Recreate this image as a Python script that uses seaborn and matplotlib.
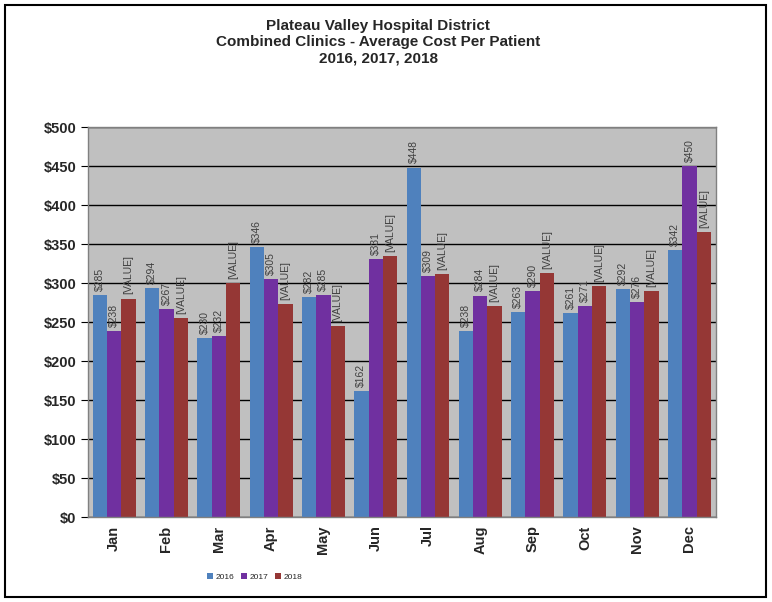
import numpy as np
import pandas as pd
import matplotlib.pyplot as plt
import seaborn as sns
from matplotlib.patches import Rectangle

months = ["Jan", "Feb", "Mar", "Apr", "May", "Jun", "Jul", "Aug", "Sep", "Oct", "Nov", "Dec"]
years = ["2016", "2017", "2018"]
cost_2016 = [285, 294, 230, 346, 282, 162, 448, 238, 263, 261, 292, 342]
cost_2017 = [238, 267, 232, 305, 285, 331, 309, 284, 290, 271, 276, 450]
cost_2018 = [280, 255, 300, 273, 245, 335, 312, 270, 313, 296, 290, 365]
colors = ["#4F81BD", "#7030A0", "#953735"]

data = pd.DataFrame({
    "Month": months * 3,
    "Year": np.repeat(years, len(months)),
    "Cost": cost_2016 + cost_2017 + cost_2018,
})

sns.set_style("white")
plt.rcParams['font.family'] = ['Liberation Sans', 'DejaVu Sans']

fig = plt.figure(figsize=(7.72, 6.02), dpi=100)
ax = fig.add_axes([0.114, 0.141, 0.813, 0.648])
ax.set_facecolor("#C0C0C0")
ax.set_axisbelow(True)
ax.yaxis.grid(True, color="black", linewidth=1)

sns.barplot(data=data, x="Month", y="Cost", hue="Year", palette=colors,
            width=0.82, saturation=1, linewidth=0, ax=ax, legend=True)

# data labels, 2018 shows the broken "[VALUE]" text like the original
for i, cont in enumerate(ax.containers):
    if i < 2:
        labs = [f"${v:.0f}" for v in cont.datavalues]
    else:
        labs = ["[VALUE]"] * len(cont.datavalues)
    ax.bar_label(cont, labels=labs, rotation=90, padding=3, fontsize=7.5, color="#404040")

ax.set_ylim(0, 500)
ax.set_xlim(-0.5, 11.5)
ax.set_yticks(range(0, 501, 50))
ax.set_yticklabels([f"${v}" for v in range(0, 501, 50)], fontsize=10.5, fontweight="bold")
ax.set_xticks(range(12))
ax.set_xticklabels(months, rotation=90, fontsize=10.5, fontweight="bold")
ax.set_xticks(np.arange(-0.5, 12, 1), minor=True)
ax.tick_params(axis="x", which="major", length=0, pad=6)
ax.tick_params(axis="x", which="minor", length=4, color="#808080")
ax.tick_params(axis="y", length=5, color="black", direction="out", left=True)
ax.set_xlabel("")
ax.set_ylabel("")
for side in ["top", "right", "bottom", "left"]:
    ax.spines[side].set_color("#808080")
    ax.spines[side].set_linewidth(1)

handles, labels = ax.get_legend_handles_labels()
ax.get_legend().remove()
fig.legend(handles, labels, loc="center", bbox_to_anchor=(0.33, 0.042), ncol=3,
           frameon=False, fontsize=6, handlelength=0.7, handleheight=0.7,
           handletextpad=0.3, columnspacing=0.8)

fig.text(0.49, 0.93, "Plateau Valley Hospital District\nCombined Clinics - Average Cost Per Patient\n2016, 2017, 2018",
         ha="center", va="center", fontsize=11, fontweight="bold", linespacing=1.2)

fig.patches.append(Rectangle((0.006, 0.008), 0.986, 0.984, transform=fig.transFigure,
                             fill=False, edgecolor="black", linewidth=1.5))

fig.savefig("out.png", dpi=100)
